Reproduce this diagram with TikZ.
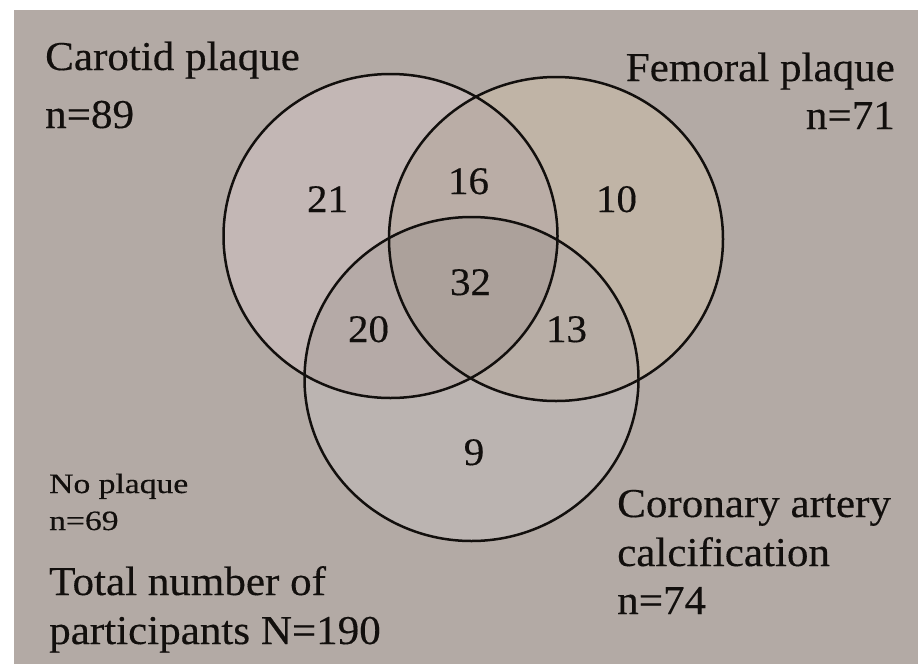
\documentclass[tikz,border=0pt]{standalone}
\usepackage{fontspec}
\setmainfont{Liberation Serif}[FakeBold=0.35]
\definecolor{bg}{RGB}{179,170,165}
\definecolor{cC}{RGB}{195,183,181}
\definecolor{cF}{RGB}{192,180,166}
\definecolor{cK}{RGB}{187,180,177}
\definecolor{cCF}{RGB}{186,173,166}
\definecolor{cCK}{RGB}{181,170,167}
\definecolor{cFK}{RGB}{184,174,166}
\definecolor{cCFK}{RGB}{172,161,155}
\definecolor{ink}{RGB}{18,15,13}
\tikzset{
  big/.style={inner sep=0pt, xscale=1.05, text=ink, font=\fontsize{41}{41}\selectfont},
  num/.style={inner sep=0pt, xscale=1.05, text=ink, anchor=base, font=\fontsize{39}{39}\selectfont},
  small/.style={inner sep=0pt, xscale=1.2, text=ink, anchor=base west, font=\fontsize{28}{28}\selectfont},
  ring/.style={draw=ink, line width=2.5pt}
}
\def\pathC{(390.5,236) ellipse [x radius=167pt, y radius=162pt]}
\def\pathF{(556,239) ellipse [x radius=167pt, y radius=162pt]}
\def\pathK{(471.5,379) ellipse [x radius=167pt, y radius=162pt]}
\begin{document}
\begin{tikzpicture}[x=1pt,y=-1pt]
\fill[white] (0,0) rectangle (918,664);
\useasboundingbox (0,0) rectangle (918,664);
\fill[bg] (14,10) rectangle (918,664);
% region fills
\fill[cC] \pathC;
\fill[cF] \pathF;
\fill[cK] \pathK;
\begin{scope}
  \clip \pathC;
  \fill[cCF] \pathF;
  \fill[cCK] \pathK;
\end{scope}
\begin{scope}
  \clip \pathF;
  \fill[cFK] \pathK;
  \clip \pathC;
  \fill[cCFK] \pathK;
\end{scope}
% outlines
\draw[ring] \pathC;
\draw[ring] \pathF;
\draw[ring] \pathK;
% labels
\node[big, anchor=base west] (carotid) at (45,70) {Carotid plaque};
\node[big, anchor=base west] (ncar) at (45,128) {n=89};
\node[big, anchor=base east] (femoral) at (895,81) {Femoral plaque};
\node[big, anchor=base east] (nfem) at (895,129) {n=71};
\node[big, anchor=base west] (coronary) at (617,517) {Coronary artery};
\node[big, anchor=base west] (calc) at (617,566) {calcification};
\node[big, anchor=base west] (ncor) at (617,614) {n=74};
\node[big, anchor=base west] (total) at (49,595) {Total number of};
\node[big, anchor=base west] (part) at (49,644) {participants N=190};
\node[small] (noplaque) at (49,493) {No plaque};
\node[small] (nno) at (49,530) {n=69};
% region counts
\node[num] (r21) at (327.5,212) {21};
\node[num] (r16) at (468.5,194) {16};
\node[num] (r10) at (616.5,212) {10};
\node[num] (r32) at (470.5,295) {32};
\node[num] (r20) at (368.5,342) {20};
\node[num] (r13) at (566.5,342) {13};
\node[num] (r9) at (474,465) {9};
\end{tikzpicture}
\end{document}
